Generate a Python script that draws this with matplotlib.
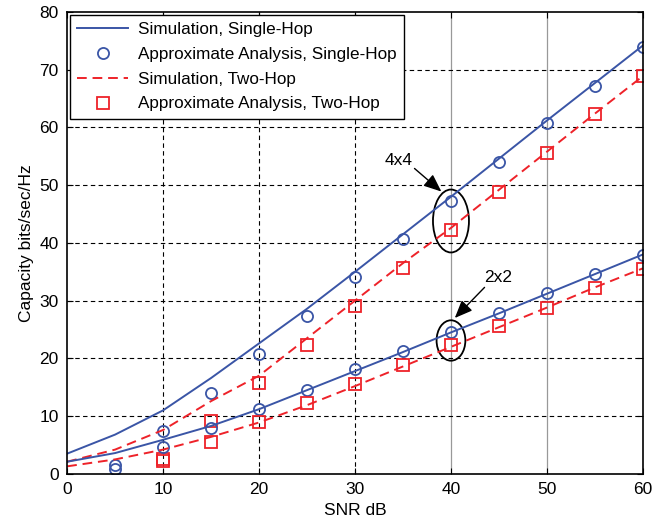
import numpy as np
import matplotlib
matplotlib.use("Agg")
from matplotlib import pyplot as plt
from matplotlib.patches import Ellipse

plt.rcParams['font.family'] = ['Liberation Sans', 'DejaVu Sans']

# SNR in dB
snr = [0, 5, 10, 15, 20, 25, 30, 35, 40, 45, 50, 55, 60]
snr_pts = [5, 10, 15, 20, 25, 30, 35, 40, 45, 50, 55, 60]

# simulation curves
sim_single_4x4 = [3.5, 6.8, 11.0, 16.6, 22.6, 28.6, 35.0, 41.5, 48.0, 54.6, 61.2, 67.7, 74.2]
sim_two_4x4 = [2.1, 4.2, 7.6, 12.6, 17.0, 23.5, 30.0, 36.5, 42.6, 49.2, 55.8, 62.4, 68.9]
sim_single_2x2 = [2.1, 3.6, 5.9, 8.3, 11.2, 14.5, 17.8, 21.1, 24.5, 27.8, 31.2, 34.6, 38.0]
sim_two_2x2 = [1.3, 2.5, 4.2, 6.4, 8.9, 11.9, 15.2, 18.6, 22.0, 25.4, 28.8, 32.3, 35.6]

# approximate analysis points
approx_single_4x4 = [1.5, 7.4, 14.0, 20.8, 27.4, 34.1, 40.7, 47.3, 54.0, 60.8, 67.1, 73.9]
approx_two_4x4 = [np.nan, 2.5, 9.1, 15.7, 22.3, 29.1, 35.7, 42.3, 48.9, 55.6, 62.3, 68.9]
approx_single_2x2 = [0.8, 4.7, 7.9, 11.3, 14.6, 18.1, 21.3, 24.6, 27.8, 31.3, 34.6, 37.9]
approx_two_2x2 = [np.nan, 2.3, 5.6, 9.0, 12.2, 15.6, 18.9, 22.3, 25.6, 28.8, 32.2, 35.5]

blue = '#3a55a6'
red = '#ee2229'

fig = plt.figure(figsize=(6.52, 5.23), dpi=100)
ax = fig.add_axes([0.103, 0.094, 0.883, 0.883])

# grid
for x in [10, 20, 30]:
    ax.axvline(x, color='black', ls=(0, (4, 3)), lw=0.8, zorder=0)
for x in [40, 50]:
    ax.axvline(x, color='#999999', ls='-', lw=0.9, zorder=0)
for y in range(10, 80, 10):
    ax.axhline(y, color='black', ls=(0, (4, 3)), lw=0.8, zorder=0)

ax.plot(snr, sim_single_4x4, '-', color=blue, lw=1.4, label='Simulation, Single-Hop')
ax.plot(snr_pts, approx_single_4x4, 'o', color=blue, mfc='none', ms=8, mew=1.3,
        label='Approximate Analysis, Single-Hop')
ax.plot(snr, sim_two_4x4, '--', color=red, lw=1.4, dashes=(5, 3), label='Simulation, Two-Hop')
ax.plot(snr_pts, approx_two_4x4, 's', color=red, mfc='none', ms=8, mew=1.3,
        label='Approximate Analysis, Two-Hop')

ax.plot(snr, sim_single_2x2, '-', color=blue, lw=1.4)
ax.plot(snr_pts, approx_single_2x2, 'o', color=blue, mfc='none', ms=8, mew=1.3)
ax.plot(snr, sim_two_2x2, '--', color=red, lw=1.4, dashes=(5, 3))
ax.plot(snr_pts, approx_two_2x2, 's', color=red, mfc='none', ms=8, mew=1.3)

# ellipses and annotations
ax.add_patch(Ellipse((40, 43.8), 3.75, 10.9, fill=False, ec='black', lw=1.3))
ax.add_patch(Ellipse((40, 23.1), 3.0, 7.0, fill=False, ec='black', lw=1.3))
arrow = dict(arrowstyle='-|>,head_length=0.6,head_width=0.25', color='black', lw=1.0,
             mutation_scale=18, shrinkA=0, shrinkB=0)
ax.text(34.5, 54.3, '4x4', ha='center', va='center', fontsize=12.5)
ax.annotate('', xy=(39.0, 48.9), xytext=(36.2, 52.9), arrowprops=arrow)
ax.text(44.9, 34.0, '2x2', ha='center', va='center', fontsize=12.5)
ax.annotate('', xy=(40.4, 27.0), xytext=(43.5, 32.3), arrowprops=arrow)

ax.set_xlim(0, 60)
ax.set_ylim(0, 80)
ax.set_xticks(range(0, 61, 10))
ax.set_yticks(range(0, 81, 10))
ax.tick_params(direction='in', top=True, right=True, labelsize=12.5, length=4, pad=6)
for s in ax.spines.values():
    s.set_linewidth(1.2)
ax.set_xlabel('SNR dB', fontsize=12.5, labelpad=4)
ax.set_ylabel('Capacity bits/sec/Hz', fontsize=12.5, labelpad=4)

leg = ax.legend(loc='upper left', fontsize=12.3, fancybox=False, framealpha=1,
                edgecolor='black', borderaxespad=0.15, handlelength=3.0,
                labelspacing=0.58, borderpad=0.42, handletextpad=0.6)
leg.get_frame().set_linewidth(1.0)

fig.savefig('out.png', dpi=100)
